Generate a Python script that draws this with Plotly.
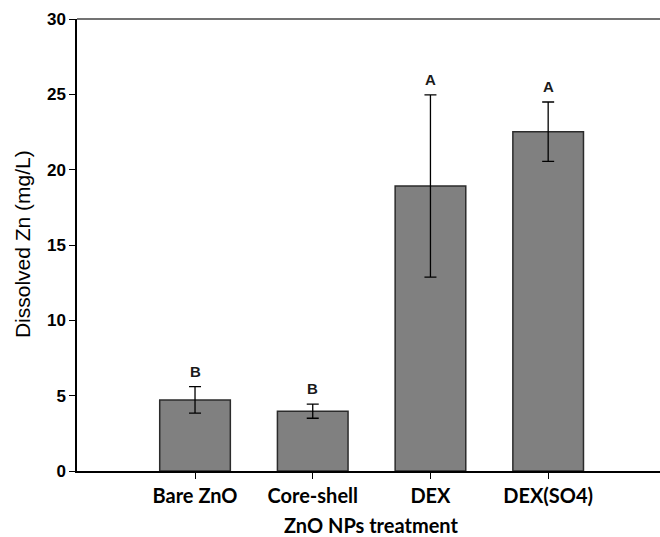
import plotly.graph_objects as go

categories = ["Bare ZnO", "Core-shell", "DEX", "DEX(SO4)"]
means = [4.72, 3.97, 18.92, 22.52]
errors = [0.88, 0.47, 6.05, 1.97]
letters = ["B", "B", "A", "A"]
y_ticks = [0, 5, 10, 15, 20, 25, 30]

x_idx = list(range(len(categories)))

fig = go.Figure()
fig.add_trace(go.Bar(
    x=x_idx, y=means, width=0.6,
    marker=dict(color="#808080", line=dict(color="#2b2b2b", width=1.5)),
    error_y=dict(type="data", array=errors, visible=True, color="#000000",
                 thickness=1.3, width=6),
    showlegend=False,
))

for xi, m, e, lab in zip(x_idx, means, errors, letters):
    fig.add_annotation(x=xi, y=m + e, text="<b>%s</b>" % lab, showarrow=False,
                       yanchor="bottom", yshift=5,
                       font=dict(family="Liberation Sans, Arial", size=15, color="#1a1a1a"))

fig.add_annotation(xref="paper", yref="paper", x=(22 - 77) / 583, y=0.502,
                   text="Dissolved Zn (mg/L)", textangle=-90, showarrow=False,
                   xanchor="center", yanchor="middle",
                   font=dict(family="Liberation Sans, Arial", size=21, color="#000"))
fig.add_annotation(xref="paper", yref="paper", x=(371 - 77) / 583, y=(471 - 525) / 452,
                   text="<b>ZnO NPs treatment</b>", showarrow=False,
                   xanchor="center", yanchor="middle",
                   font=dict(family="Lato, Open Sans, sans-serif", size=20, color="#000"))

fig.update_layout(
    width=660, height=537,
    margin=dict(l=77, r=0, t=19, b=66),
    plot_bgcolor="white", paper_bgcolor="white",
    xaxis=dict(
        range=[-1.0026, 3.95], tickmode="array", tickvals=x_idx,
        ticktext=["<b>%s</b>" % c for c in categories],
        ticks="outside", ticklen=6, tickcolor="#000", tickwidth=1,
        showline=True, linecolor="#000", linewidth=1.5, mirror=False,
        showgrid=False, zeroline=False, automargin=False,
        tickfont=dict(family="Lato, Open Sans, sans-serif", size=20, color="#000"),
    ),
    yaxis=dict(
        range=[0, 30], tickmode="array", tickvals=y_ticks,
        ticktext=["<b>%d</b>" % v for v in y_ticks],
        ticks="outside", ticklen=6, tickcolor="#000", tickwidth=1,
        showline=True, linecolor="#000", linewidth=1.5,
        showgrid=False, zeroline=False, automargin=False,
        tickfont=dict(family="Liberation Sans, Arial", size=17, color="#000"),
    ),
    shapes=[dict(type="line", xref="paper", yref="paper", x0=0, x1=1, y0=1, y1=1,
                 line=dict(color="#444", width=1.5))],
)

fig.write_html("out.html", config={"displayModeBar": False},
               post_script="document.body.style.margin='0';document.body.style.padding='0';")
